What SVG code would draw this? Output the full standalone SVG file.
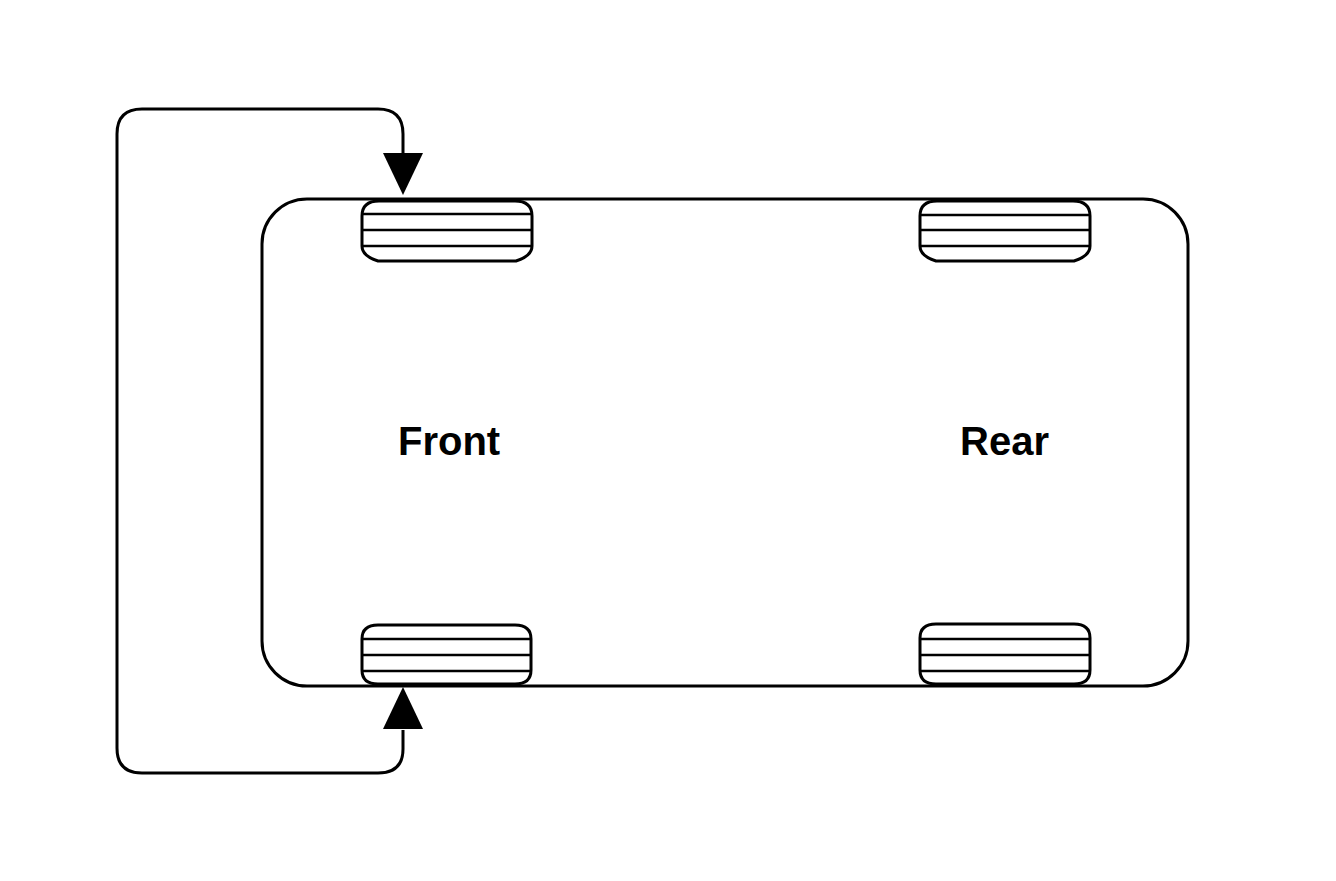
<svg xmlns="http://www.w3.org/2000/svg" width="1336" height="881" viewBox="0 0 1336 881">
<defs>
<style>
.o{fill:none;stroke:#000;stroke-width:3}
.t{fill:#fff;stroke:#000;stroke-width:3}
.l{stroke:#000;stroke-width:2.5}
.c{fill:none;stroke:#000;stroke-width:3}
.lbl{font-family:"Liberation Sans",Arial,sans-serif;font-weight:bold;font-size:40px;fill:#000}
</style>
</defs>
<rect width="1336" height="881" fill="#fff"/>
<g id="car">
<rect class="o" x="262" y="199" width="926" height="487" rx="45" ry="45"/>
</g>
<g id="tire-front-top">
<path class="t" d="M379,201 H515 Q532,201 532,216 V246 Q532,256 516,261 H378 Q362,256 362,246 V216 Q362,201 379,201 Z"/>
<line class="l" x1="362" y1="214" x2="532" y2="214"/>
<line class="l" x1="362" y1="230" x2="532" y2="230"/>
<line class="l" x1="362" y1="246" x2="532" y2="246"/>
</g>
<g id="tire-rear-top">
<path class="t" d="M937,201 H1073 Q1090,201 1090,216 V246 Q1090,256 1074,261 H936 Q920,256 920,246 V216 Q920,201 937,201 Z"/>
<line class="l" x1="920" y1="215" x2="1090" y2="215"/>
<line class="l" x1="920" y1="230" x2="1090" y2="230"/>
<line class="l" x1="920" y1="246" x2="1090" y2="246"/>
</g>
<g id="tire-front-bottom">
<path class="t" d="M378,625 H515 Q531,625 531,639 V670 Q531,684 515,684 H378 Q362,684 362,670 V639 Q362,625 378,625 Z"/>
<line class="l" x1="362" y1="639" x2="531" y2="639"/>
<line class="l" x1="362" y1="655" x2="531" y2="655"/>
<line class="l" x1="362" y1="671" x2="531" y2="671"/>
</g>
<g id="tire-rear-bottom">
<path class="t" d="M936,624 H1074 Q1090,624 1090,638 V670 Q1090,684 1074,684 H936 Q920,684 920,670 V638 Q920,624 936,624 Z"/>
<line class="l" x1="920" y1="639" x2="1090" y2="639"/>
<line class="l" x1="920" y1="655" x2="1090" y2="655"/>
<line class="l" x1="920" y1="671" x2="1090" y2="671"/>
</g>
<g id="label-front"><text class="lbl" x="398" y="455">Front</text></g>
<g id="label-rear"><text class="lbl" x="960" y="455">Rear</text></g>
<g id="connectors">
<path class="c" d="M403,730 V749 Q403,773 378,773 H142 Q117,773 117,748 V134 Q117,109 142,109 H378 Q403,109 403,134 V155"/>
<path d="M383,153 L423,153 L403,195 Z" fill="#000"/>
<path d="M383,729 L423,729 L403,687 Z" fill="#000"/>
</g>
</svg>
